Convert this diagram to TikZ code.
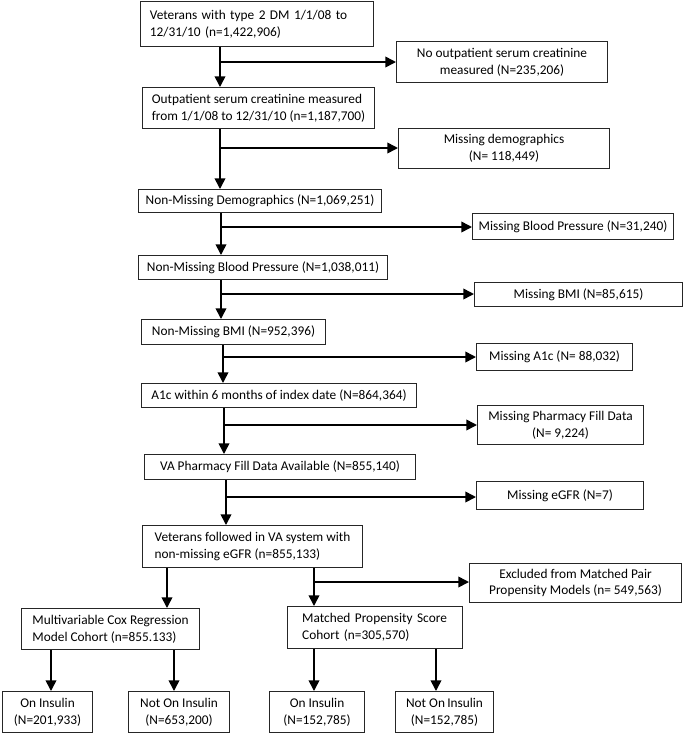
\documentclass[tikz,border=0pt]{standalone}
\usepackage{fontspec}
\setmainfont{Carlito}
\usetikzlibrary{arrows.meta}
\usetikzlibrary{positioning}
\tikzset{
  box/.style={draw=black!85, line width=0.8pt, anchor=north west, inner ysep=1pt,
    font=\fontsize{10}{12.5}\selectfont},
  leftbox/.style={box, align=left, inner xsep=2pt},
  midbox/.style={box, align=center, inner xsep=2pt},
  flow/.style={draw=black, line width=1.2pt, -{Triangle[length=8pt,width=8pt]}},
}

\begin{document}
\begin{tikzpicture}[x=0.75pt,y=-0.75pt]
\useasboundingbox (0,0) rectangle (685,733);

\node[leftbox, inner xsep=7pt, text width=160.75pt, minimum height=33.75pt] (M-1) at (140,1)
  {Veterans with type 2 DM 1/1/08 to\\12/31/10 (n=1,422,906)};
\node[leftbox, minimum width=174pt, minimum height=30.75pt] (M-2) at (142,87)
  {Outpatient serum creatinine measured\\from 1/1/08 to 12/31/10 (n=1,187,700)};
\node[midbox, minimum width=182.25pt, minimum height=17.25pt] (M-3) at (138,189)
  {Non-Missing Demographics (N=1,069,251)};
\node[midbox, minimum width=186.75pt, minimum height=18pt] (M-4) at (138,255)
  {Non-Missing Blood Pressure (N=1,038,011)};
\node[midbox, minimum width=138pt, minimum height=18.75pt] (M-5) at (141,319)
  {Non-Missing BMI (N=952,396)};
\node[midbox, minimum width=206.25pt, minimum height=18pt] (M-6) at (141,383)
  {A1c within 6 months of index date (N=864,364)};
\node[midbox, minimum width=203.25pt, minimum height=18.75pt] (M-7) at (144,454)
  {VA Pharmacy Fill Data Available (N=855,140)};
\node[leftbox, minimum width=165pt, minimum height=31.5pt] (M-8) at (142,525)
  {Veterans followed in VA system with\\non-missing eGFR (n=855,133)};

\node[midbox, minimum width=158.25pt, minimum height=30.75pt] (X-1) at (396,41)
  {No outpatient serum creatinine\\measured (N=235,206)};
\node[midbox, minimum width=158.25pt, minimum height=30pt] (X-2) at (398,128)
  {Missing demographics\\(N= 118,449)};
\node[midbox, minimum width=150.75pt, minimum height=19.5pt] (X-3) at (472,213)
  {Missing Blood Pressure (N=31,240)};
\node[midbox, minimum width=156pt, minimum height=18pt] (X-4) at (474,282)
  {Missing BMI (N=85,615)};
\node[midbox, minimum width=117pt, minimum height=20.25pt] (X-5) at (476,343)
  {Missing A1c (N= 88,032)};
\node[midbox, minimum width=124.5pt, minimum height=29.25pt] (X-6) at (477,405)
  {Missing Pharmacy Fill Data\\(N= 9,224)};
\node[midbox, minimum width=125.25pt, minimum height=21pt] (X-7) at (476,481)
  {Missing eGFR (N=7)};
\node[midbox, minimum width=159pt, minimum height=29.25pt] (X-8) at (469,563)
  {Excluded from Matched Pair\\Propensity Models (n= 549,563)};

\node[leftbox, minimum width=133.5pt, minimum height=30.75pt] (C-1) at (21,608)
  {Multivariable Cox Regression\\Model Cohort (n=855.133)};
\node[leftbox, inner xsep=11pt, text width=109.25pt, minimum height=31.5pt] (C-2) at (287,606)
  {Matched Propensity Score\\Cohort (n=305,570)};

\node[midbox, minimum width=67.5pt, minimum height=30.75pt] (L-1) at (2,691)
  {On Insulin\\(N=201,933)};
\node[midbox, minimum width=75.75pt, minimum height=30.75pt] (L-2) at (128,691)
  {Not On Insulin\\(N=653,200)};
\node[midbox, minimum width=71.25pt, minimum height=30.75pt] (L-3) at (269,691)
  {On Insulin\\(N=152,785)};
\node[midbox, minimum width=73.5pt, minimum height=30.75pt] (L-4) at (395,691)
  {Not On\,Insulin\\(N=152,785)};

\coordinate (J-1) at (220,62);
\coordinate (J-2) at (220,148);
\coordinate (J-3) at (221,227);
\coordinate (J-4) at (221,294);
\coordinate (J-5) at (223,357);
\coordinate (J-6) at (224,425);
\coordinate (J-7) at (226,497);
\coordinate (J-8) at (314,582);
\coordinate (K-1) at (167,0);
\coordinate (D-1) at (51,0);
\coordinate (D-2) at (174,0);
\coordinate (D-3) at (314,0);
\coordinate (D-4) at (436,0);

\draw[flow] (M-1.south -| J-1) -- (M-2.north -| J-1);
\draw[flow] (M-2.south -| J-2) -- (M-3.north -| J-2);
\draw[flow] (M-3.south -| J-3) -- (M-4.north -| J-3);
\draw[flow] (M-4.south -| J-4) -- (M-5.north -| J-4);
\draw[flow] (M-5.south -| J-5) -- (M-6.north -| J-5);
\draw[flow] (M-6.south -| J-6) -- (M-7.north -| J-6);
\draw[flow] (M-7.south -| J-7) -- (M-8.north -| J-7);

\draw[flow] (J-1) -- (J-1 -| X-1.west);
\draw[flow] (J-2) -- (J-2 -| X-2.west);
\draw[flow] (J-3) -- (J-3 -| X-3.west);
\draw[flow] (J-4) -- (J-4 -| X-4.west);
\draw[flow] (J-5) -- (J-5 -| X-5.west);
\draw[flow] (J-6) -- (J-6 -| X-6.west);
\draw[flow] (J-7) -- (J-7 -| X-7.west);
\draw[flow] (J-8) -- (J-8 -| X-8.west);

\draw[flow] (M-8.south -| K-1) -- (C-1.north -| K-1);
\draw[flow] (M-8.south -| J-8) -- (C-2.north -| J-8);

\draw[flow] (C-1.south -| D-1) -- (L-1.north -| D-1);
\draw[flow] (C-1.south -| D-2) -- (L-2.north -| D-2);
\draw[flow] (C-2.south -| D-3) -- (L-3.north -| D-3);
\draw[flow] (C-2.south -| D-4) -- (L-4.north -| D-4);
\end{tikzpicture}
\end{document}
